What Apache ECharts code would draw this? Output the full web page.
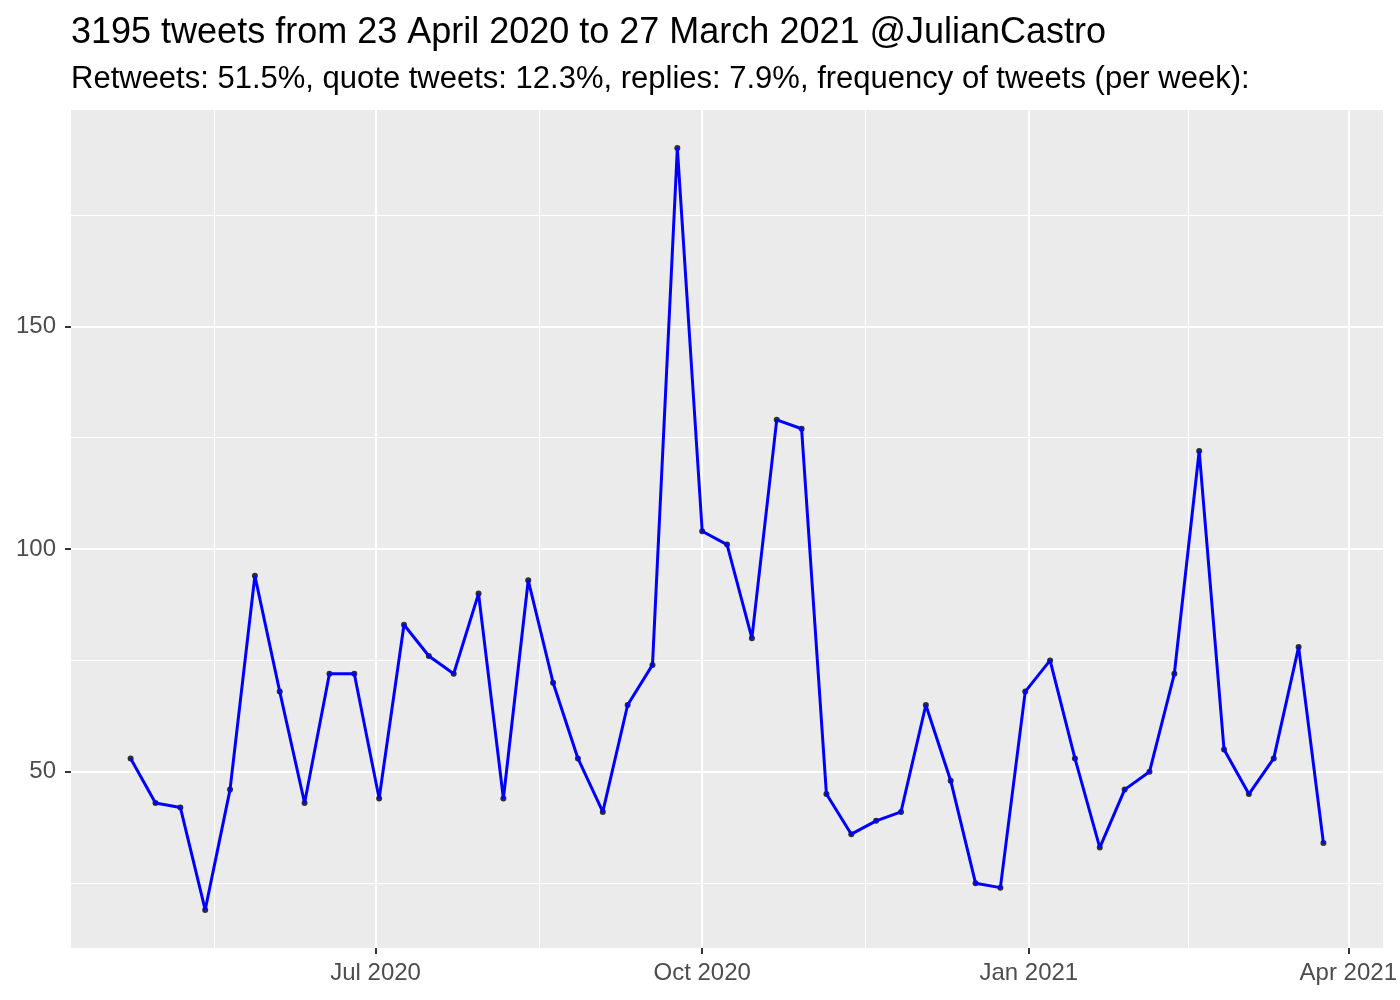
<!DOCTYPE html>
<html>
<head>
<meta charset="utf-8">
<script src="https://cdn.jsdelivr.net/npm/echarts@6/dist/echarts.min.js"></script>
<style>
  html, body { margin: 0; padding: 0; background: #fff; }
  #main { width: 1400px; height: 1000px; }
</style>
</head>
<body>
<div id="main"></div>
<script>
// weekly tweet counts
const weeks = [
  '2020-04-23', '2020-04-30', '2020-05-07', '2020-05-14', '2020-05-21', '2020-05-28',
  '2020-06-04', '2020-06-11', '2020-06-18', '2020-06-25', '2020-07-02', '2020-07-09',
  '2020-07-16', '2020-07-23', '2020-07-30', '2020-08-06', '2020-08-13', '2020-08-20',
  '2020-08-27', '2020-09-03', '2020-09-10', '2020-09-17', '2020-09-24', '2020-10-01',
  '2020-10-08', '2020-10-15', '2020-10-22', '2020-10-29', '2020-11-05', '2020-11-12',
  '2020-11-19', '2020-11-26', '2020-12-03', '2020-12-10', '2020-12-17', '2020-12-24',
  '2020-12-31', '2021-01-07', '2021-01-14', '2021-01-21', '2021-01-28', '2021-02-04',
  '2021-02-11', '2021-02-18', '2021-02-25', '2021-03-04', '2021-03-11', '2021-03-18',
  '2021-03-25'
];
const tweets = [
  53, 43, 42, 19, 46, 94, 68, 43, 72, 72, 44, 83,
  76, 72, 90, 44, 93, 70, 53, 41, 65, 74, 190, 104,
  101, 80, 129, 127, 45, 36, 39, 41, 65, 48, 25, 24,
  68, 75, 53, 33, 46, 50, 72, 122, 55, 45, 53, 78,
  34
];
const xTickDates = ['2020-07-01', '2020-10-01', '2021-01-01', '2021-04-01'];
const xTickLabels = ['Jul 2020', 'Oct 2020', 'Jan 2021', 'Apr 2021'];
const xMinorDates = ['2020-05-16 12', '2020-08-16 00', '2020-11-16 00', '2021-02-15 00'];
const yTicks = [50, 100, 150];
const yMinorTicks = [25, 75, 125, 175];

const FONT = 'Liberation Sans';

function toTime(s) {
  const p = s.split(/[- ]/).map(Number);
  return Date.UTC(p[0], p[1] - 1, p[2], p[3] || 0);
}

const times = weeks.map(toTime);
const points = times.map((t, i) => [t, tweets[i]]);
const xTicks = xTickDates.map(toTime);
const xMinor = xMinorDates.map(toTime);

// ggplot style 5% expansion
const tSpan = times[times.length - 1] - times[0];
const xMin = times[0] - tSpan * 0.05;
const xMax = times[times.length - 1] + tSpan * 0.05;
const vMin = Math.min(...tweets), vMax = Math.max(...tweets);
const yMin = vMin - (vMax - vMin) * 0.05;
const yMax = vMax + (vMax - vMin) * 0.05;

const chart = echarts.init(document.getElementById('main'));

const option = {
  animation: false,
  title: {
    text: '3195 tweets from 23 April 2020 to 27 March 2021 @JulianCastro',
    subtext: 'Retweets: 51.5%, quote tweets: 12.3%, replies: 7.9%, frequency of tweets (per week):',
    left: 71,
    top: 15,
    padding: 0,
    itemGap: 13,
    textStyle: { fontFamily: FONT, fontSize: 36, fontWeight: 'normal', color: '#000' },
    subtextStyle: { fontFamily: FONT, fontSize: 31, color: '#000' }
  },
  grid: {
    left: 71,
    right: 15,
    top: 110,
    bottom: 52,
    show: true,
    backgroundColor: '#EBEBEB',
    borderWidth: 0
  },
  xAxis: [
    {
      type: 'value',
      min: xMin,
      max: xMax,
      axisLine: { show: false },
      axisTick: {
        show: true,
        length: 6,
        customValues: xTicks,
        lineStyle: { color: '#333333', width: 2 }
      },
      axisLabel: {
        customValues: xTicks,
        formatter: (v) => {
          const i = xTicks.findIndex((t) => Math.abs(t - v) < 1000);
          return i >= 0 ? xTickLabels[i] : '';
        },
        color: '#4D4D4D',
        fontFamily: FONT,
        fontSize: 24,
        margin: 13
      },
      splitLine: { show: true, lineStyle: { color: '#FFFFFF', width: 2 } }
    },
    {
      // minor grid lines
      type: 'value',
      min: xMin,
      max: xMax,
      position: 'bottom',
      axisLine: { show: false },
      axisTick: { show: false, customValues: xMinor },
      axisLabel: { show: false },
      splitLine: { show: true, lineStyle: { color: '#FFFFFF', width: 1 } }
    }
  ],
  yAxis: [
    {
      type: 'value',
      min: yMin,
      max: yMax,
      axisLine: { show: false },
      axisTick: {
        show: true,
        length: 6,
        customValues: yTicks,
        lineStyle: { color: '#333333', width: 2 }
      },
      axisLabel: {
        customValues: yTicks,
        color: '#4D4D4D',
        fontFamily: FONT,
        fontSize: 24,
        margin: 15
      },
      splitLine: { show: true, lineStyle: { color: '#FFFFFF', width: 2 } }
    },
    {
      type: 'value',
      min: yMin,
      max: yMax,
      position: 'left',
      axisLine: { show: false },
      axisTick: { show: false, customValues: yMinorTicks },
      axisLabel: { show: false },
      splitLine: { show: true, lineStyle: { color: '#FFFFFF', width: 1 } }
    }
  ],
  series: [
    {
      type: 'scatter',
      data: points,
      symbol: 'circle',
      symbolSize: 6,
      itemStyle: { color: '#000000' },
      z: 2
    },
    {
      type: 'line',
      data: points,
      showSymbol: false,
      lineStyle: { color: '#0000FF', width: 3 },
      z: 3
    }
  ]
};

chart.setOption(option);
</script>
</body>
</html>
